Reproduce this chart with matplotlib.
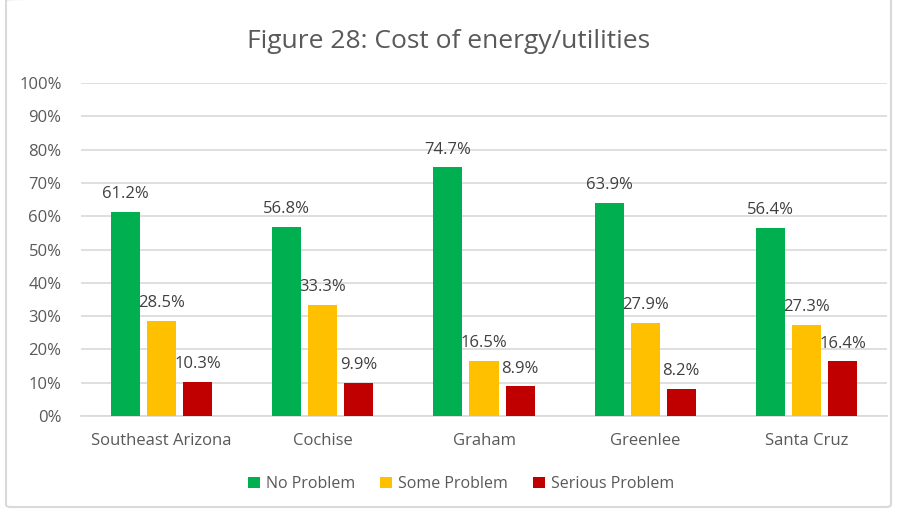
import matplotlib.pyplot as plt
import numpy as np
from matplotlib.patches import FancyBboxPatch

plt.rcParams['font.family'] = ['Open Sans', 'DejaVu Sans']

regions = ['Southeast Arizona', 'Cochise', 'Graham', 'Greenlee', 'Santa Cruz']
no_problem = [61.2, 56.8, 74.7, 63.9, 56.4]
some_problem = [28.5, 33.3, 16.5, 27.9, 27.3]
serious_problem = [10.3, 9.9, 8.9, 8.2, 16.4]
series_names = ['No Problem', 'Some Problem', 'Serious Problem']
colors = ['#00B050', '#FFC000', '#C00000']
text_col = '#595959'

fig = plt.figure(figsize=(8.97, 5.12), dpi=100)
ax = fig.add_axes([81 / 897, 1 - 416 / 512, (887 - 81) / 897, (416 - 83) / 512])

# chart border
fig.patches.append(FancyBboxPatch((6 / 897, 5 / 512), 885 / 897, 510 / 512,
                                  boxstyle='round,pad=0,rounding_size=0.005',
                                  transform=fig.transFigure, fill=False,
                                  edgecolor='#D9D9D9', linewidth=1.5))

x = np.arange(len(regions))
width = 0.18
step = 0.224
for i, (vals, name, c) in enumerate(zip([no_problem, some_problem, serious_problem],
                                        series_names, colors)):
    pos = x + (i - 1) * step
    ax.bar(pos, vals, width, color=c, label=name, zorder=3)
    for px, v in zip(pos, vals):
        ax.annotate('%.1f%%' % v, (px, v), xytext=(0, 7), textcoords='offset points',
                    ha='center', va='bottom', fontsize=12, color='#404040')

ax.set_xlim(-0.5, len(regions) - 0.5)
ax.set_ylim(0, 100)
ax.set_yticks(range(0, 101, 10))
ax.set_yticklabels(['%d%%' % t for t in range(0, 101, 10)])
ax.set_xticks(x)
ax.set_xticklabels(regions)
ax.grid(axis='y', color='#D9D9D9', linewidth=1.2, zorder=0)
for s in ['top', 'right', 'left']:
    ax.spines[s].set_visible(False)
ax.spines['bottom'].set_color('#D9D9D9')
ax.spines['bottom'].set_linewidth(1.2)
ax.tick_params(axis='both', length=0, labelsize=12, colors=text_col)
ax.tick_params(axis='x', pad=12)
ax.tick_params(axis='y', pad=14)

fig.text(0.5, 1 - 42 / 512, 'Figure 28: Cost of energy/utilities', ha='center',
         va='center', fontsize=19, color=text_col)

fig.legend(loc='center', bbox_to_anchor=(0.514, 1 - 484 / 512), ncol=3, frameon=False,
           fontsize=11.5, handlelength=0.75, handleheight=0.75, columnspacing=1.6,
           handletextpad=0.35, labelcolor=text_col)

fig.savefig('out.png', dpi=100)
